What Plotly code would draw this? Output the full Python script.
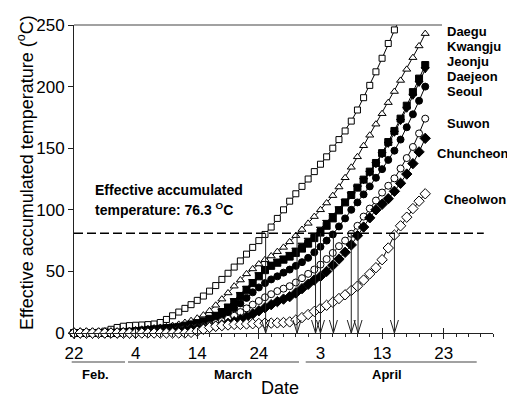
import plotly.graph_objects as go

# ---------------- data ----------------
days = list(range(58))  # day 0 = 22 Feb
stations = ["Daegu", "Kwangju", "Jeonju", "Daejeon", "Seoul", "Suwon", "Chuncheon", "Cheolwon"]

daegu = [0, 0, 0, 0, 0.5, 1.5, 3, 4.5, 5.5, 6,
         6.3, 6.5, 6.8, 7.3, 8.5, 11, 14, 17, 20, 23,
         26.5, 30, 34, 38.5, 43.5, 48.5, 53.5, 58.5, 64, 69.5,
         75, 80, 86, 93, 100, 107, 113, 119, 125, 131,
         137, 143, 150, 157, 164, 172, 181, 191, 201, 212,
         223, 235, 246, 257, 268, 280, 292, 304]
kwangju = [0, 0, 0, 0, 0, 0.3, 0.6, 1, 1.5, 2,
           2.5, 3, 3.5, 4, 4.5, 5, 6, 7, 8.5, 10,
           12, 14.5, 18, 22.5, 27.5, 32.5, 38, 43, 48, 52,
           56, 59.5, 62.5, 66, 69.5, 74, 79, 84, 89, 94.5,
           100, 105.5, 111.5, 118.5, 126, 134.5, 143, 152, 160.5, 169.5,
           178, 187, 196, 205, 214, 223.5, 233, 243]
jeonju = [0, 0, 0, 0, 0, 0, 0, 0.3, 0.6, 1,
          1.5, 2, 2.5, 3, 3.5, 4, 4.5, 5, 6, 7,
          8, 9.5, 11.5, 14, 17, 20.5, 25, 30, 35, 40.5,
          46, 51, 54.5, 57, 59.5, 62, 65, 68.5, 72.5, 77,
          81.5, 87, 93, 99.5, 106, 112, 118, 124.5, 131, 138,
          146, 155, 164, 174, 184.5, 195.5, 206.5, 217.5]
daejeon = [0, 0, 0, 0, 0, 0, 0, 0.3, 0.7, 1.2,
           1.7, 2.2, 2.7, 3.2, 3.7, 4.2, 4.8, 5.5, 6.5, 7.5,
           8.5, 10, 12, 15, 18, 22, 26.5, 31.5, 36.5, 42,
           47.5, 52.5, 56, 58.5, 61, 64, 67.5, 71.5, 75.5, 79.5,
           84.5, 90, 95.5, 101, 107, 112.5, 118, 124, 130, 137,
           145, 153.5, 162.5, 172, 182, 192.5, 203, 214]
seoul = [0, 0, 0, 0, 0, 0, 0, 0, 0.3, 0.6,
         1, 1.3, 1.7, 2, 2.4, 2.8, 3.2, 3.7, 4.3, 5,
         6, 7.5, 9, 11, 13.5, 16.5, 20, 24, 28.5, 33,
         37, 40.5, 43.5, 46, 49, 51.5, 54.5, 57.5, 61, 65.5,
         70, 75, 80, 86.5, 93, 100, 106, 112.5, 119, 126,
         133, 140.5, 148, 157, 167, 177.5, 188.5, 200]
suwon = [0, 0, 0, 0, 0, 0, 0, 0, 0, 0.3,
         0.6, 0.9, 1.2, 1.5, 1.8, 2.1, 2.5, 3, 3.5, 4,
         4.7, 5.5, 6.5, 8, 9.5, 11.5, 14, 17, 20, 23,
         26, 29, 31.5, 34, 36, 38, 41, 44.5, 48, 51.5,
         55.5, 60, 65, 70.5, 75, 80.5, 87, 94.5, 101, 107.5,
         114, 119.5, 125.5, 133.5, 142, 151, 162, 174]
chuncheon = [0, 0, 0, 0, 0, 0, 0, 0, 0, 0,
             0, 0.3, 0.6, 0.9, 1.2, 1.5, 1.8, 2.1, 2.5, 3,
             3.5, 4, 4.8, 5.6, 6.6, 7.8, 9.2, 11, 13, 15.5,
             18, 20.5, 23, 25.5, 27.5, 29.5, 32.5, 36, 39.5, 43,
             46, 50, 55, 60, 65.5, 71.5, 79, 86, 93.5, 100,
             104.5, 109, 115, 121.5, 129, 137.5, 147, 158]
cheolwon = [0, 0, 0, 0, 0, 0, 0, 0, 0, 0,
            0, 0, 0, 0, 0, 0, 0, 0, 0, 0.5,
            1.5, 3, 4.5, 5.5, 6, 6.5, 7, 7, 7.3, 7.5,
            7.7, 8, 8, 8.2, 8.5, 9, 10.5, 12.5, 15, 17.5,
            20, 22.5, 25, 28, 31, 34.5, 38, 43, 48, 53,
            59.5, 69, 79.5, 87, 94, 101, 107, 113]

series = [daegu, kwangju, jeonju, daejeon, seoul, suwon, chuncheon, cheolwon]

# days at which each station reaches the threshold (arrow positions)
cross_days = [31.1, 36.2, 40.0, 39.2, 42.1, 45.0, 46.1, 52.0]
threshold = 81

tick_days = [0, 10, 20, 30, 40, 50, 60]
tick_text = ["22", "4", "14", "24", "3", "13", "23"]
months = ["Feb.", "March", "April"]

# ---------------- geometry / styles ----------------
W, H = 507, 397
L, R, T, B = 74, 14, 25, 64
PW, PH = W - L - R, H - T - B
XMAX, YMAX = 68, 250
FONT = "Liberation Sans, Arial, sans-serif"


def px(x):
    return (x - L) / PW


def py(y):
    return (H - B - y) / PH


symbols = ["square", "triangle-up", "square", "triangle-down", "circle", "circle", "diamond", "diamond"]
fills = ["white", "white", "black", "black", "black", "white", "black", "white"]
sizes = [6, 7, 7, 7, 7, 7, 8, 8]

fig = go.Figure()
for i, (name, vals) in enumerate(zip(stations, series)):
    fig.add_trace(go.Scatter(
        x=days, y=vals, name=name, mode="lines+markers",
        line=dict(color="black", width=1),
        marker=dict(symbol=symbols[i], size=sizes[i], color=fills[i],
                    line=dict(color="black", width=1)),
        cliponaxis=(i == 0), showlegend=False, xaxis="x", yaxis="y"))

# arrows (stem + open V head) computed from crossing days
hw = 4 / (PW / XMAX)
hh = 13 / (PH / YMAX)
ax, ay = [], []
for c in cross_days:
    ax += [c, c, None, c - hw, c, c + hw, None]
    ay += [threshold, 0, None, hh, 0, hh, None]
fig.add_trace(go.Scatter(x=ax, y=ay, mode="lines", line=dict(color="#222", width=1),
                         showlegend=False, xaxis="x2", yaxis="y", cliponaxis=False,
                         hoverinfo="skip"))

# dashed threshold line
fig.add_shape(type="line", xref="x", yref="y", x0=0, x1=66.5, y0=threshold, y1=threshold,
              line=dict(color="black", width=1.5, dash="9px,4px"))
# top frame line
fig.add_shape(type="line", xref="paper", yref="paper", x0=0, x1=px(442), y0=1, y1=1,
              line=dict(color="#444", width=1.2))

# month underlines & labels
month_spans = [(71.7, 125), (128, 299), (305.7, 476.7)]
month_cx = [95, 233, 387]
for m, (a, b), cx in zip(months, month_spans, month_cx):
    fig.add_shape(type="line", xref="paper", yref="paper", x0=px(a), x1=px(b),
                  y0=py(362), y1=py(362), line=dict(color="#444", width=1.2))
    fig.add_annotation(text="<b>%s</b>" % m, xref="paper", yref="paper", x=px(cx), y=py(374),
                       showarrow=False, xanchor="center", yanchor="middle",
                       font=dict(family=FONT, size=13, color="black"))

# station labels
label_x = [445, 445, 445, 445, 445, 445, 435, 442]
label_y = [32, 47, 62, 77, 91, 123, 153, 199]
for name, lx, ly in zip(stations, label_x, label_y):
    fig.add_annotation(text="<b>%s</b>" % name, xref="paper", yref="paper", x=px(lx), y=py(ly),
                       showarrow=False, xanchor="left", yanchor="middle",
                       font=dict(family=FONT, size=13, color="black"))

# threshold annotation
fig.add_annotation(text="<b>Effective accumulated</b>", xref="paper", yref="paper",
                   x=px(93), y=py(190), showarrow=False, xanchor="left", yanchor="middle",
                   font=dict(family=FONT, size=14, color="black"))
fig.add_annotation(text="<b>temperature: 76.3 <sup>O</sup>C</b>", xref="paper", yref="paper",
                   x=px(93), y=py(209), showarrow=False, xanchor="left", yanchor="middle",
                   font=dict(family=FONT, size=14, color="black"))

# axis titles
fig.add_annotation(text="Effective accumulated temperature (<sup>o</sup>C)", xref="paper", yref="paper",
                   x=px(25), y=py(173), showarrow=False, textangle=-90,
                   xanchor="center", yanchor="middle", font=dict(family=FONT, size=18, color="black"))
fig.add_annotation(text="Date", xref="paper", yref="paper", x=px(280), y=py(388),
                   showarrow=False, xanchor="center", yanchor="middle",
                   font=dict(family=FONT, size=18, color="black"))

fig.update_layout(
    width=W, height=H, margin=dict(l=L, r=R, t=T, b=B),
    paper_bgcolor="white", plot_bgcolor="white",
    font=dict(family=FONT, size=17, color="black"),
    xaxis=dict(range=[0, XMAX], tickmode="array", tickvals=tick_days, ticktext=tick_text,
               ticks="outside", ticklen=5, tickwidth=1.2, tickcolor="#222",
               showline=True, linecolor="#222", linewidth=1, showgrid=False, zeroline=False,
               tickfont=dict(family=FONT, size=17, color="black"),
               minor=dict(tickmode="array", tickvals=list(range(0, XMAX + 1, 2)),
                          ticks="outside", ticklen=3, tickwidth=1, tickcolor="#222", showgrid=False)),
    xaxis2=dict(range=[0, XMAX], overlaying="x", anchor="y", side="bottom",
                tickmode="array", tickvals=tick_days, ticks="inside", ticklen=5, tickwidth=1.2,
                tickcolor="#222", showticklabels=False, showline=False, showgrid=False, zeroline=False),
    yaxis=dict(range=[0, YMAX], tickmode="array", tickvals=[0, 50, 100, 150, 200, 250],
               ticks="outside", ticklen=5, tickwidth=1, tickcolor="#222",
               showline=True, linecolor="#222", linewidth=1, showgrid=False, zeroline=False,
               tickfont=dict(family=FONT, size=17, color="black")),
)

fig.write_html("out.html")
